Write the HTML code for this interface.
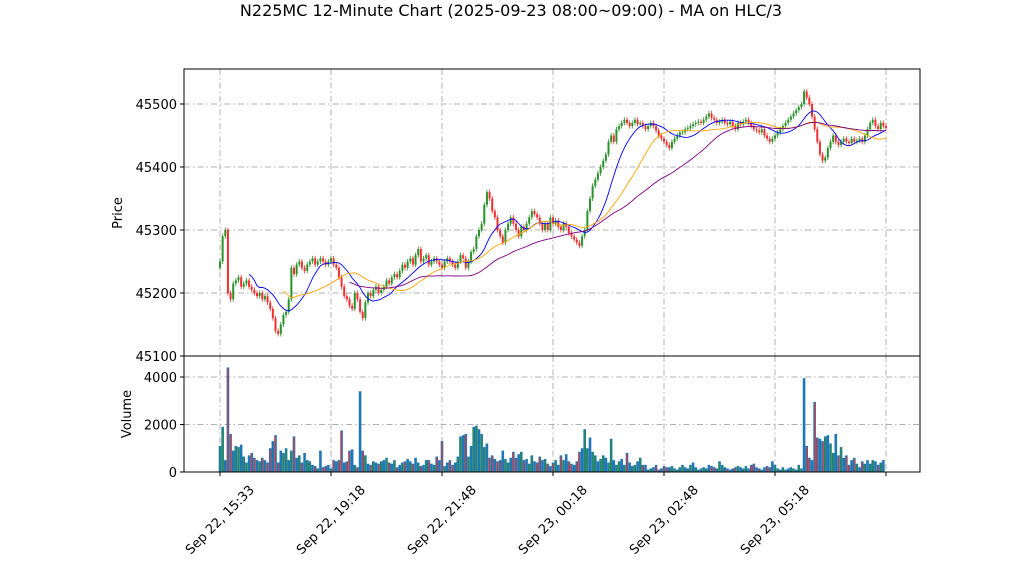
<!DOCTYPE html>
<html><head><meta charset="utf-8"><style>
body{margin:0;background:#fff;}
svg{display:block;font-family:"DejaVu Sans","Liberation Sans",sans-serif;}
</style></head><body>
<svg id="chart" width="1022" height="575" xmlns="http://www.w3.org/2000/svg">
<text x="511" y="16" text-anchor="middle" font-size="16">N225MC 12-Minute Chart (2025-09-23 08:00~09:00) - MA on HLC/3</text>
<g id="grid"></g><g id="marks"></g><g id="axes"></g>
</svg>
<script>
const closes=[45250,45290,45300,45200,45190,45215,45220,45225,
45210,45215,45220,45210,45205,45200,45195,45200,
45190,45195,45185,45175,45160,45140,45135,
45150,45165,45170,45190,
45240,45230,45245,45250,
45240,45235,45245,45250,45255,45245,45250,45255,45250,45245,45250,
45255,45245,45240,45225,45210,45195,
45190,45180,45175,45200,45190,45170,45160,45185,45200,45195,45205,45210,45200,
45205,45210,45220,45215,45225,45230,45225,45235,45245,45240,45250,45255,45245,45260,45270,
45250,45255,45260,45245,45250,45255,45250,45245,45240,45250,45255,45250,45245,45240,45250,45260,45255,45240,45250,45265,
45270,45290,45300,45310,45340,45360,45350,45330,
45320,45300,45290,45280,45300,45310,45320,
45310,45300,45290,45305,45300,45310,45320,45330,45325,45320,45310,45300,
45310,45300,45320,45310,45315,45305,45300,45310,45305,45295,45290,45285,45280,45275,45290,
45300,45330,45350,45370,45380,45390,45400,45410,45420,45440,45450,45440,45460,45465,45470,
45475,45470,45465,45470,45475,45468,45470,45465,45460,45465,45470,45465,45458,45450,45445,45440,45435,45430,45440,45445,45450,45455,
45455,45460,45462,45465,45468,45470,45472,45470,
45475,45480,45485,45478,45475,45470,45472,45475,45470,45468,45472,
45465,45460,45470,45468,45472,45475,45470,45465,45460,45458,45455,
45460,45450,45445,45440,45445,45450,45455,45460,45465,45470,45475,45480,
45485,45490,45495,45500,45520,45510,45500,
45480,45460,45440,45420,45410,45415,45430,45440,
45450,45440,45435,45440,45445,45440,45438,45445,45440,45442,45445,45440,45450,45460,45470,
45475,45465,45460,45470,45465,45462];
const volumes=[1100,1900,500,4400,1600,900,1100,1050,1150,650,400,
700,800,600,500,450,600,500,400,1000,1300,
1550,400,900,800,1000,500,900,1500,600,700,
400,800,500,450,300,250,150,900,200,250,
300,150,500,450,500,1750,400,450,900,950,
300,200,3400,900,700,350,300,450,400,350,
450,500,600,400,350,500,200,300,400,450,
550,450,350,600,400,250,300,500,500,350,
300,650,500,1300,250,400,500,300,400,650,
1500,1550,1600,650,1100,1900,1950,1800,1600,1050,
1200,600,700,550,450,500,900,550,400,600,
850,600,750,850,500,550,350,700,450,400,
650,500,550,350,250,400,500,300,700,500,
750,450,350,300,450,850,1000,1800,1000,1450,
850,700,450,550,700,600,400,1400,500,300,
450,550,300,800,400,250,300,450,600,300,
300,100,150,200,300,100,150,250,200,200,
250,150,100,200,300,200,150,300,400,200,
100,150,200,150,300,250,200,150,450,300,
200,150,100,150,200,250,200,150,250,150,
300,350,200,150,100,200,250,200,450,300,
150,100,200,100,150,200,150,100,
300,150,3950,1100,600,500,2950,1450,1400,1300,
1500,1550,1200,800,1600,700,1050,600,700,300,
500,600,350,200,450,350,500,350,500,450,300,400,500];
const priceTicks=[45100,45200,45300,45400,45500];
const volTicks=[0,2000,4000];
const xTickLabels=["Sep 22, 15:33","Sep 22, 19:18","Sep 22, 21:48","Sep 23, 00:18","Sep 23, 02:48","Sep 23, 05:18",""];
const maWindows=[12,25,50];
const maColors=["blue","orange","purple"];

const NS="http://www.w3.org/2000/svg";
const L=184,R=920,PT=69,PB=356,VB=472;
const N=closes.length;
const xs=i=>220+i*(666/(N-1));
const py=v=>104+(45500-v)*0.63;
const vy=v=>472-v*0.02375;
function mk(tag,attrs,parent){const e=document.createElementNS(NS,tag);for(const k in attrs)e.setAttribute(k,attrs[k]);parent.appendChild(e);return e;}
const grid=document.getElementById('grid'),marks=document.getElementById('marks'),axes=document.getElementById('axes');
const gstyle={stroke:"#b0b0b0","stroke-width":1,"stroke-dasharray":"6,3,1.5,3"};
const tickIdx=[0,1,2,3,4,5,6].map(k=>k*(N-1)/6);
tickIdx.forEach((ti,k)=>{
 const x=xs(ti);
 let g=mk('line',Object.assign({x1:x,x2:x,y1:PT,y2:PB},gstyle),grid);
 
 
 g=mk('line',Object.assign({x1:x,x2:x,y1:PB,y2:VB},gstyle),grid);
 
 
 const t=mk('line',{x1:x,x2:x,y1:VB,y2:VB+4,stroke:"#000"},axes);
 
 
 if(xTickLabels[k]){
  const cy=520;
  const lb=mk('text',{x:x,y:cy+4,"font-size":13,"text-anchor":"middle",transform:`rotate(-45 ${x} ${cy})`},axes);
  lb.textContent=xTickLabels[k];
  
  
 }
});
priceTicks.forEach(v=>{
 const y=py(v);
 if(v>45100){const g=mk('line',Object.assign({x1:L,x2:R,y1:y,y2:y},gstyle),grid);
 
 }
 mk('line',{x1:L-4,x2:L,y1:y,y2:y,stroke:"#000"},axes);
 const t=mk('text',{x:L-7,y:y+5,"font-size":13,"text-anchor":"end"},axes);
 t.textContent=v;
 
 
});
volTicks.forEach(v=>{
 const y=vy(v);
 if(v>0){const g=mk('line',Object.assign({x1:L,x2:R,y1:y,y2:y},gstyle),grid);
 
 }
 mk('line',{x1:L-4,x2:L,y1:y,y2:y,stroke:"#000"},axes);
 const t=mk('text',{x:L-7,y:y+5,"font-size":13,"text-anchor":"end"},axes);
 t.textContent=v;
 
 
});
const typ=[];
for(let i=0;i<N;i++){
 const c=closes[i],o=i>0?closes[i-1]:c-10;
 const up=c>=o,col=up?"#2a922a":"#f03030";
 const hi=Math.max(o,c)+4,lo=Math.min(o,c)-4;
 typ.push((hi+lo+c)/3);
 const x=xs(i);
 const w=mk('line',{x1:x,x2:x,y1:py(hi),y2:py(lo),stroke:col,"stroke-width":0.8},marks);
 
 
 const top=py(Math.max(o,c)),bot=py(Math.min(o,c));
 const b=mk('rect',{x:x-1,y:top,width:2,height:Math.max(bot-top,0.8),fill:col},marks);
 
 
 const v=volumes[i]||0;
 const vb=mk('rect',{x:x-1.3,y:vy(v),width:2.6,height:VB-vy(v),fill:"#1f77b4"},marks);
 
 
 if(i%3!==2){const s=mk('rect',{x:x-0.5,y:vy(v)+1,width:1,height:Math.max(VB-vy(v)-1,0),fill:col},marks);
 
 }
}
maWindows.forEach((w,k)=>{
 let d="";
 for(let i=w-1;i<N;i++){let s=0;for(let j=i-w+1;j<=i;j++)s+=typ[j];const m=s/w;d+=(d?"L":"M")+xs(i).toFixed(1)+","+py(m).toFixed(1);}
 const p=mk('path',{d:d,fill:"none",stroke:maColors[k],"stroke-width":0.9},marks);
 
 
});
let f=mk('rect',{x:L,y:PT,width:R-L,height:PB-PT,fill:"none",stroke:"#000"},axes);


f=mk('rect',{x:L,y:PB,width:R-L,height:VB-PB,fill:"none",stroke:"#000"},axes);


let t=mk('text',{x:122,y:213,"font-size":13,"text-anchor":"middle",transform:"rotate(-90 122 213)"},axes);
t.textContent="Price";


t=mk('text',{x:131,y:414,"font-size":13,"text-anchor":"middle",transform:"rotate(-90 131 414)"},axes);
t.textContent="Volume";


</script>
</body></html>
